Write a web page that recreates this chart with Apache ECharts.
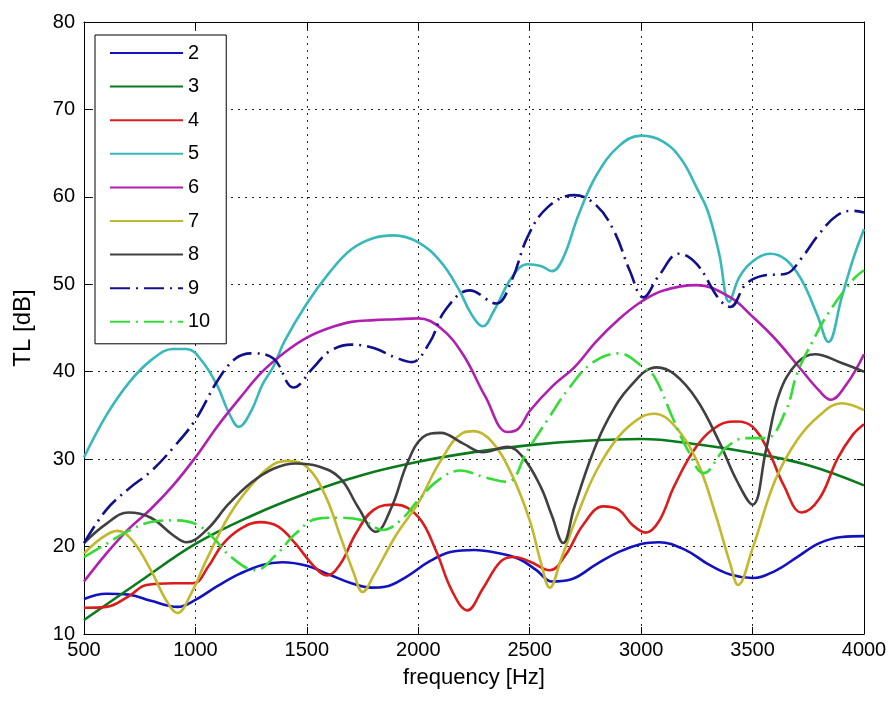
<!DOCTYPE html>
<html>
<head>
<meta charset="utf-8">
<title>TL vs frequency</title>
<script src="https://cdn.jsdelivr.net/npm/echarts@6/dist/echarts.min.js"></script>
<style>
  html, body { margin: 0; padding: 0; background: #fff; }
  #chart { width: 892px; height: 704px; }
</style>
</head>
<body>
<div id="chart"></div>
<script>
// Transmission loss curves, [frequency Hz, TL dB]
const tl2 = [[500,14.0],[600,14.6],[700,14.5],[800,13.8],[920,13.1],[1000,13.9],[1100,15.5],[1200,16.9],[1300,17.9],[1390,18.2],[1500,17.8],[1600,16.8],[1700,15.8],[1790,15.3],[1850,15.4],[1950,16.6],[2050,18.3],[2150,19.4],[2250,19.6],[2350,19.3],[2450,18.6],[2530,17.3],[2600,16.0],[2680,16.2],[2800,18.0],[2900,19.4],[3000,20.3],[3080,20.5],[3200,19.6],[3300,18.0],[3400,16.8],[3500,16.4],[3600,17.2],[3700,18.8],[3800,20.4],[3900,21.1],[4000,21.2]];
const tl3 = [[500,11.6],[750,16.0],[1000,20.3],[1250,23.5],[1500,26.1],[1750,28.2],[2000,29.7],[2250,30.8],[2500,31.6],[2750,32.1],[3000,32.3],[3250,31.7],[3500,30.7],[3750,29.3],[4000,27.0]];
const tl4 = [[500,13.0],[600,13.1],[700,14.3],[780,15.6],[900,15.8],[990,15.8],[1060,17.8],[1120,20.2],[1200,22.0],[1290,22.8],[1370,22.3],[1450,20.3],[1530,17.8],[1590,16.7],[1650,18.0],[1720,21.5],[1800,24.2],[1900,24.8],[2000,23.4],[2080,19.5],[2150,15.0],[2220,12.7],[2290,15.2],[2370,18.3],[2430,18.8],[2500,18.3],[2590,17.3],[2660,19.0],[2740,22.5],[2830,24.6],[2900,24.2],[2960,22.5],[3020,21.6],[3080,22.9],[3150,27.0],[3250,31.5],[3350,33.9],[3430,34.3],[3500,33.7],[3570,31.0],[3640,27.0],[3720,23.9],[3800,25.5],[3880,30.0],[3950,32.8],[4000,34.0]];
const tl5 = [[500,30.2],[600,35.0],[700,38.7],[800,41.3],[900,42.6],[960,42.6],[1030,41.2],[1100,38.3],[1150,35.3],[1195,33.7],[1250,35.5],[1300,38.5],[1350,40.6],[1400,43.5],[1500,47.8],[1600,51.3],[1700,54.0],[1800,55.3],[1890,55.6],[2000,54.8],[2100,52.6],[2180,49.5],[2240,46.5],[2290,45.2],[2340,47.0],[2420,50.8],[2490,52.3],[2550,52.1],[2600,51.5],[2650,53.0],[2720,58.0],[2800,62.5],[2900,65.8],[3000,67.0],[3100,66.3],[3180,64.3],[3250,61.0],[3300,58.3],[3350,53.5],[3395,48.0],[3440,50.8],[3500,52.6],[3580,53.5],[3650,52.8],[3720,50.5],[3790,46.5],[3840,43.4],[3900,48.5],[3950,52.8],[4000,56.3]];
const tl6 = [[500,16.0],[600,19.2],[700,22.0],[800,24.3],[900,27.0],[1000,30.2],[1100,33.8],[1200,37.0],[1300,40.0],[1400,42.2],[1500,43.9],[1600,45.0],[1700,45.7],[1800,45.9],[1900,46.0],[2000,46.1],[2100,45.0],[2200,42.0],[2300,37.2],[2400,33.1],[2450,33.5],[2500,35.5],[2600,38.3],[2700,40.5],[2800,43.5],[2900,46.0],[3000,48.0],[3100,49.3],[3250,49.9],[3400,48.5],[3500,46.3],[3600,43.8],[3700,40.8],[3800,37.8],[3850,36.8],[3920,38.5],[4000,42.0]];
const tl7 = [[500,19.2],[580,21.0],[650,21.8],[720,20.6],[800,17.3],[870,13.8],[920,12.4],[980,14.6],[1050,18.5],[1150,23.5],[1250,27.0],[1350,29.4],[1420,29.8],[1500,29.1],[1580,26.0],[1650,21.2],[1710,17.0],[1750,14.8],[1800,16.7],[1900,21.3],[2000,25.0],[2100,29.8],[2200,33.0],[2250,33.2],[2330,32.0],[2420,28.2],[2500,23.0],[2550,18.2],[2590,15.3],[2640,18.5],[2720,24.0],[2800,28.7],[2900,32.6],[3000,34.8],[3060,35.2],[3150,33.8],[3250,29.8],[3330,24.0],[3400,18.0],[3435,15.6],[3500,19.8],[3600,27.5],[3700,32.2],[3800,35.0],[3900,36.4],[4000,35.6]];
const tl8 = [[500,20.4],[600,22.6],[700,23.9],[800,23.3],[900,21.3],[960,20.5],[1050,21.9],[1150,24.9],[1250,27.3],[1350,28.9],[1450,29.5],[1550,29.2],[1650,27.8],[1730,24.5],[1810,21.7],[1880,24.5],[1950,29.5],[2020,32.5],[2100,33.0],[2200,31.8],[2290,30.8],[2400,31.4],[2470,30.2],[2550,26.8],[2600,23.5],[2650,20.4],[2700,24.5],[2780,30.5],[2850,34.5],[2950,38.3],[3070,40.5],[3150,39.7],[3250,36.8],[3350,32.0],[3430,27.5],[3500,24.8],[3560,31.0],[3620,37.5],[3700,41.0],[3780,42.0],[3900,41.0],[4000,40.0]];
const tl9 = [[500,20.4],[600,24.2],[700,26.6],[800,28.6],[900,31.3],[1000,34.5],[1100,39.0],[1180,41.5],[1250,42.1],[1350,41.5],[1440,38.2],[1530,40.5],[1600,42.3],[1700,43.1],[1800,42.7],[1900,41.6],[1970,41.1],[2050,43.3],[2120,47.0],[2230,49.3],[2350,47.8],[2420,50.5],[2490,55.4],[2580,58.8],[2700,60.2],[2800,59.0],[2880,56.0],[2950,51.5],[3010,48.5],[3080,51.0],[3170,53.5],[3250,52.3],[3350,48.3],[3400,47.4],[3470,50.0],[3550,51.0],[3650,51.2],[3720,53.0],[3800,55.8],[3880,57.9],[3950,58.4],[4000,58.2]];
const tl10 = [[500,18.8],[600,20.3],[700,21.8],[800,22.8],[900,23.0],[1000,22.6],[1080,21.0],[1160,18.8],[1270,17.3],[1360,19.0],[1450,21.5],[1550,23.2],[1650,23.3],[1750,23.0],[1840,21.9],[1920,23.0],[2000,25.3],[2090,27.6],[2190,28.7],[2300,27.9],[2400,27.4],[2490,31.0],[2580,34.5],[2670,37.9],[2780,41.0],[2900,42.1],[3010,40.5],[3060,39.4],[3145,34.5],[3210,31.0],[3280,28.4],[3380,31.3],[3470,32.4],[3560,32.4],[3650,35.6],[3700,39.8],[3770,43.5],[3840,46.7],[3950,50.5],[4000,51.6]];

const seriesNames = ['2', '3', '4', '5', '6', '7', '8', '9', '10'];
const seriesData = [tl2, tl3, tl4, tl5, tl6, tl7, tl8, tl9, tl10];
const seriesColors = ['#1212c0', '#0b7a1c', '#dc1c1c', '#38b8b8', '#b020b0', '#c2b82e', '#404040', '#10108c', '#35dc35'];
const seriesDash = ['solid', 'solid', 'solid', 'solid', 'solid', 'solid', 'solid', [20, 6, 2, 6], [20, 6, 2, 6]];

const FONT = 'Liberation Sans, Arial, sans-serif';

const chart = echarts.init(document.getElementById('chart'), null, { renderer: 'canvas' });

const dotted = { color: '#222', width: 1, type: [2, 5] };
const axisLine = { show: true, lineStyle: { color: '#000', width: 1 } };
const tick = { show: true, inside: true, length: 7, lineStyle: { color: '#000', width: 1 } };
const plainNumber = v => String(v);

chart.setOption({
  backgroundColor: '#fff',
  animation: false,
  grid: { left: 84, right: 28, top: 22, bottom: 70, containLabel: false },
  xAxis: [
    {
      type: 'value', min: 500, max: 4000, interval: 500, position: 'bottom',
      name: 'frequency [Hz]', nameLocation: 'middle', nameGap: 33,
      nameTextStyle: { fontFamily: FONT, fontSize: 22, color: '#000' },
      axisLine: axisLine, axisTick: tick,
      axisLabel: { margin: 6, fontFamily: FONT, fontSize: 20, color: '#000', formatter: plainNumber },
      splitLine: { show: true, lineStyle: dotted }
    },
    {
      type: 'value', min: 500, max: 4000, interval: 500, position: 'top',
      axisLine: axisLine, axisTick: tick, axisLabel: { show: false }, splitLine: { show: false }
    }
  ],
  yAxis: [
    {
      type: 'value', min: 10, max: 80, interval: 10, position: 'left',
      name: 'TL [dB]', nameLocation: 'middle', nameGap: 49,
      nameTextStyle: { fontFamily: FONT, fontSize: 24, color: '#000' },
      axisLine: axisLine, axisTick: tick,
      axisLabel: { margin: 9, fontFamily: FONT, fontSize: 20, color: '#000', formatter: plainNumber },
      splitLine: { show: true, lineStyle: dotted }
    },
    {
      type: 'value', min: 10, max: 80, interval: 10, position: 'right',
      axisLine: axisLine, axisTick: tick, axisLabel: { show: false }, splitLine: { show: false }
    }
  ],
  legend: {
    orient: 'vertical', left: 95, top: 35,
    padding: [8, 16, 12, 14],
    itemWidth: 73, itemHeight: 20, itemGap: 13.6,
    backgroundColor: '#fff', borderColor: '#000', borderWidth: 1,
    itemStyle: { opacity: 0 },
    textStyle: { fontFamily: FONT, fontSize: 20, color: '#000' },
    data: seriesNames
  },
  series: seriesNames.map((name, i) => ({
    name: name,
    type: 'line',
    data: seriesData[i],
    xAxisIndex: 0, yAxisIndex: 0,
    smooth: 0.4,
    showSymbol: false,
    symbol: 'none',
    color: seriesColors[i],
    lineStyle: { color: seriesColors[i], width: 2.6, type: seriesDash[i] },
    z: 2 + i
  }))
});
</script>
</body>
</html>
